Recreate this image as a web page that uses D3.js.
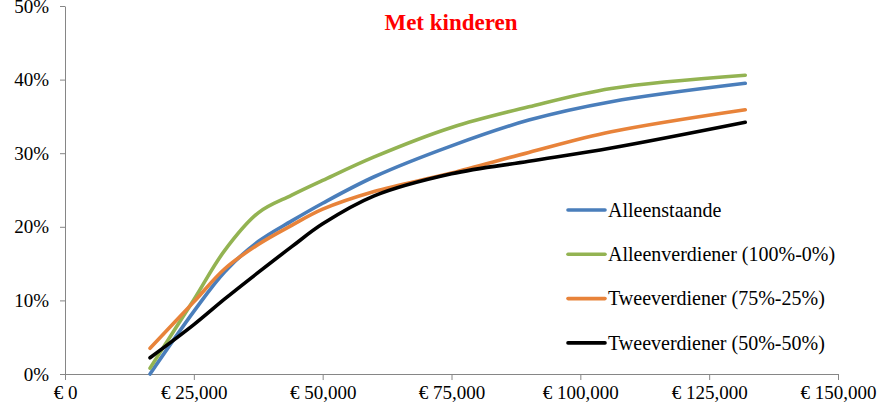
<!DOCTYPE html>
<html lang="nl">
<head>
  <meta charset="UTF-8">
  <title>Met kinderen</title>
  <style>
    body {
      margin: 0;
      padding: 0;
      background: #fff;
    }
    .axis path, .axis line {
      stroke: #868686;
      stroke-width: 1;
    }
  </style>
</head>
<body>
  <div id="chart"></div>

  <script src="https://d3js.org/d3.v7.min.js"></script>
  <script>
    // income levels (euro) where the curves were read
    const incomes = [16500, 25000, 31000, 37500, 44000, 50000, 60000, 75000, 90000, 106000, 132000];

    // average tax rates in percent
    const alleenstaande   = [0.0, 8.5, 13.9, 18.0, 20.8, 23.2, 26.8, 31.0, 34.5, 37.0, 39.5];
    const alleenverdiener = [0.8, 10.1, 16.8, 21.9, 24.3, 26.3, 29.5, 33.5, 36.3, 38.8, 40.6];
    const tweeverdiener75 = [3.5, 9.8, 14.3, 17.6, 20.2, 22.4, 24.8, 27.3, 30.1, 32.9, 35.9];
    const tweeverdiener50 = [2.2, 6.7, 10.2, 13.8, 17.3, 20.4, 24.2, 27.2, 28.9, 30.7, 34.2];

    const seriesNames = ['Alleenstaande', 'Alleenverdiener (100%-0%)', 'Tweeverdiener (75%-25%)', 'Tweeverdiener (50%-50%)'];
    const seriesValues = [alleenstaande, alleenverdiener, tweeverdiener75, tweeverdiener50];
    const colors = ['#4a7ebb', '#93b352', '#e8833a', '#000000'];

    const xTicks = [0, 25000, 50000, 75000, 100000, 125000, 150000];
    const yTicks = [0, 10, 20, 30, 40, 50];

    const font = '"Liberation Serif", "DejaVu Serif", serif';
    const width = 890, height = 412;
    const margin = { top: 6, right: 52, bottom: 38, left: 65 };

    const svg = d3.select('#chart').append('svg')
      .attr('width', width)
      .attr('height', height)
      .attr('font-family', font);

    const x = d3.scaleLinear().domain([0, 150000]).range([margin.left, width - margin.right]);
    const y = d3.scaleLinear().domain([0, 50]).range([height - margin.bottom, margin.top]);

    const euro = d => d === 0 ? '€ 0' : '€ ' + d3.format(',')(d);

    // x axis
    const xAxis = svg.append('g')
      .attr('class', 'axis')
      .attr('transform', `translate(0,${y(0)})`)
      .call(d3.axisBottom(x).tickValues(xTicks).tickFormat(euro).tickSizeInner(6).tickSizeOuter(0).tickPadding(6));
    xAxis.attr('font-family', font).attr('font-size', 19);
    xAxis.selectAll('text').attr('fill', '#000');

    // y axis
    const yAxis = svg.append('g')
      .attr('class', 'axis')
      .attr('transform', `translate(${x(0)},0)`)
      .call(d3.axisLeft(y).tickValues(yTicks).tickFormat(d => d + '%').tickSizeInner(5).tickSizeOuter(0).tickPadding(11));
    yAxis.attr('font-family', font).attr('font-size', 19);
    yAxis.selectAll('text').attr('fill', '#000');

    // lines
    const line = d3.line()
      .x((d, i) => x(incomes[i]))
      .y(d => y(d))
      .curve(d3.curveCatmullRom);

    seriesValues.forEach((vals, i) => {
      svg.append('path')
        .datum(vals)
        .attr('fill', 'none')
        .attr('stroke', colors[i])
        .attr('stroke-width', 3.6)
        .attr('stroke-linecap', 'round')
        .attr('stroke-linejoin', 'round')
        .attr('d', line);
    });

    // title
    svg.append('text')
      .attr('x', 451)
      .attr('y', 30)
      .attr('text-anchor', 'middle')
      .attr('font-family', font)
      .attr('font-size', 23)
      .attr('font-weight', 'bold')
      .attr('fill', '#ff0000')
      .text('Met kinderen');

    // legend
    const legend = svg.append('g').attr('transform', 'translate(568,210)');
    seriesNames.forEach((name, i) => {
      const row = legend.append('g').attr('transform', `translate(0,${i * 44.3})`);
      row.append('line')
        .attr('x1', 0).attr('x2', 37)
        .attr('y1', 0).attr('y2', 0)
        .attr('stroke', colors[i])
        .attr('stroke-width', 3.6)
        .attr('stroke-linecap', 'round');
      row.append('text')
        .attr('x', 40)
        .attr('y', 0)
        .attr('dy', '0.33em')
        .attr('font-family', font)
        .attr('font-size', 20)
        .attr('fill', '#000')
        .text(name);
    });
  </script>
</body>
</html>
